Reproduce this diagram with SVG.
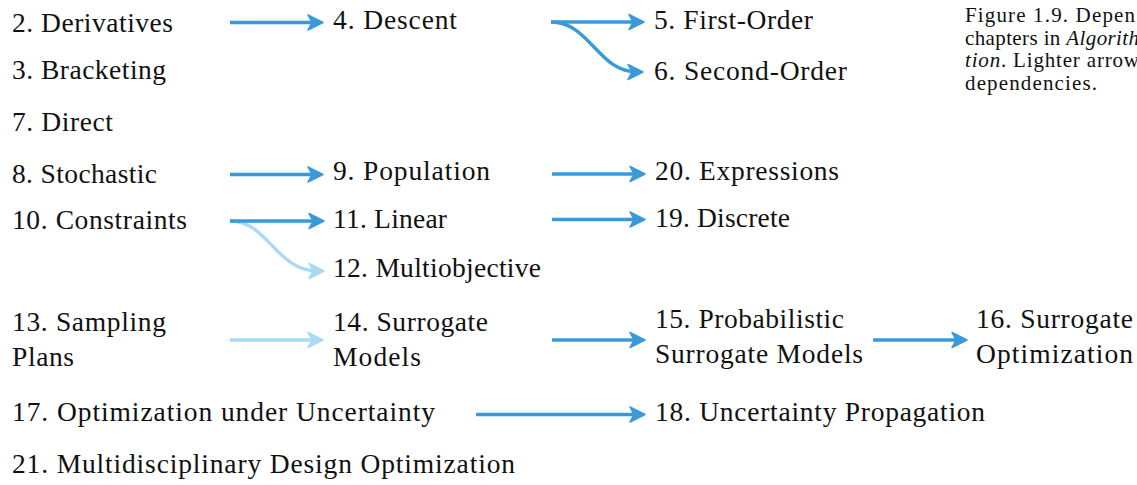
<svg xmlns="http://www.w3.org/2000/svg" width="1137" height="485" viewBox="0 0 1137 485">
<style>
  .t { font-family: "Liberation Serif", "Times New Roman", serif; font-size: 27.5px; fill: #111; }
  .cap { font-family: "Liberation Serif", "Times New Roman", serif; font-size: 21px; fill: #111; }
  .e { fill: none; stroke: #3a9ad9; stroke-width: 3.4; }
  .l { fill: none; stroke: #a9daf5; stroke-width: 3.4; }
</style>
<defs>
  <marker id="ah" markerUnits="userSpaceOnUse" viewBox="-11 -10 20 20" markerWidth="20" markerHeight="20" refX="0" refY="0" orient="auto">
    <path d="M-9,-7.5 L6,0 L-9,7.5 L-5,0 z" fill="#3a9ad9" stroke="#3a9ad9" stroke-width="1.5" stroke-linejoin="round"/>
  </marker>
  <marker id="ahl" markerUnits="userSpaceOnUse" viewBox="-11 -10 20 20" markerWidth="20" markerHeight="20" refX="0" refY="0" orient="auto">
    <path d="M-9,-7.5 L6,0 L-9,7.5 L-5,0 z" fill="#a9daf5" stroke="#a9daf5" stroke-width="1.5" stroke-linejoin="round"/>
  </marker>
</defs>
<rect width="1137" height="485" fill="#ffffff"/>

<g id="connectors">
  <path class="e" d="M230,22.5 H317" marker-end="url(#ah)"/>
  <path class="e" d="M551,22 H638" marker-end="url(#ah)"/>
  <path class="e" d="M551,22 C590,22 598,72 637,72" marker-end="url(#ah)"/>
  <path class="e" d="M230,174.5 H317" marker-end="url(#ah)"/>
  <path class="e" d="M552,174 H639" marker-end="url(#ah)"/>
  <path class="l" d="M230,221 C268,221 276,271 318,271" marker-end="url(#ahl)"/>
  <path class="e" d="M230,221 H318" marker-end="url(#ah)"/>
  <path class="e" d="M552,219.5 H639" marker-end="url(#ah)"/>
  <path class="l" d="M230,340 H317" marker-end="url(#ahl)"/>
  <path class="e" d="M552,340 H639" marker-end="url(#ah)"/>
  <path class="e" d="M873,340 H961" marker-end="url(#ah)"/>
  <path class="e" d="M476,414.5 H639" marker-end="url(#ah)"/>
</g>

<g id="n2"><text class="t" x="12" y="32" textLength="161">2. Derivatives</text></g>
<g id="n3"><text class="t" x="12" y="79" textLength="154">3. Bracketing</text></g>
<g id="n7"><text class="t" x="12" y="131" textLength="101">7. Direct</text></g>
<g id="n8"><text class="t" x="12" y="183" textLength="145">8. Stochastic</text></g>
<g id="n10"><text class="t" x="12" y="229" textLength="175">10. Constraints</text></g>
<g id="n13"><text class="t" x="12" y="331" textLength="154">13. Sampling</text><text class="t" x="12" y="366" textLength="62">Plans</text></g>
<g id="n17"><text class="t" x="12" y="421" textLength="423">17. Optimization under Uncertainty</text></g>
<g id="n21"><text class="t" x="12" y="473" textLength="503">21. Multidisciplinary Design Optimization</text></g>

<g id="n4"><text class="t" x="333" y="29" textLength="124">4. Descent</text></g>
<g id="n9"><text class="t" x="333" y="180" textLength="157">9. Population</text></g>
<g id="n11"><text class="t" x="333" y="228" textLength="114">11. Linear</text></g>
<g id="n12"><text class="t" x="333" y="277" textLength="208">12. Multiobjective</text></g>
<g id="n14"><text class="t" x="333" y="331" textLength="155">14. Surrogate</text><text class="t" x="333" y="366" textLength="88">Models</text></g>

<g id="n5"><text class="t" x="654" y="29" textLength="159">5. First-Order</text></g>
<g id="n6"><text class="t" x="654" y="80" textLength="193">6. Second-Order</text></g>
<g id="n20"><text class="t" x="655" y="180" textLength="184">20. Expressions</text></g>
<g id="n19"><text class="t" x="655" y="227" textLength="135">19. Discrete</text></g>
<g id="n15"><text class="t" x="655" y="328" textLength="189">15. Probabilistic</text><text class="t" x="655" y="363" textLength="208">Surrogate Models</text></g>
<g id="n18"><text class="t" x="655" y="421" textLength="330">18. Uncertainty Propagation</text></g>
<g id="n16"><text class="t" x="976" y="328" textLength="157">16. Surrogate</text><text class="t" x="976" y="363" textLength="157">Optimization</text></g>

<g id="caption">
  <text class="cap" x="965" y="22" textLength="170">Figure 1.9. Depen</text>
  <text class="cap" x="965" y="44.5" textLength="174">chapters in <tspan font-style="italic">Algorith</tspan></text>
  <text class="cap" x="965" y="67" textLength="174"><tspan font-style="italic">tion</tspan>. Lighter arrow</text>
  <text class="cap" x="965" y="89.5" textLength="132">dependencies.</text>
</g>
</svg>
